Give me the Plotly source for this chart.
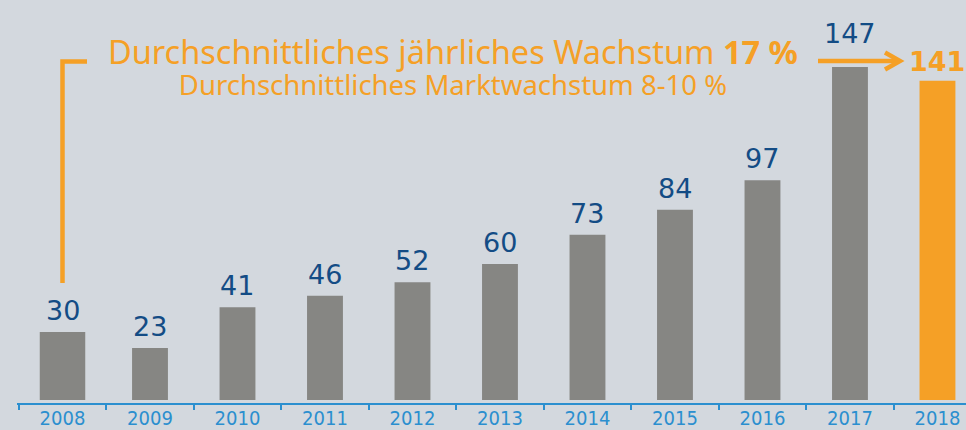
import plotly.graph_objects as go

years = ["2008", "2009", "2010", "2011", "2012", "2013", "2014", "2015", "2016", "2017", "2018"]
values = [30, 23, 41, 46, 52, 60, 73, 84, 97, 147, 141]
headline = "Durchschnittliches jährliches Wachstum <b>17 %</b>"
subline = "Durchschnittliches Marktwachstum 8-10 %"

BG = "#d3d8de"
GREY = "#868683"
ORANGE = "#f5a026"
DARKBLUE = "#134c85"
AXISBLUE = "#2b8fcf"

W, H = 966, 430
ML, MR, MT, MB = 17, 0, 0, 27
PW, PH = W - ML - MR, H - MT - MB


def px(x):
    return (x - ML) / PW


def py(y):
    return (PH + MT - y) / PH


colors = [GREY] * (len(values) - 1) + [ORANGE]
widths = [0.52] + [0.41] * (len(values) - 1)

fig = go.Figure()
fig.add_trace(go.Bar(
    x=years, y=values, marker=dict(color=colors, line=dict(width=0)),
    width=widths, hoverinfo="skip",
))

annotations = []
for i, v in enumerate(values):
    last = i == len(values) - 1
    shift = 4
    if i == len(values) - 2:
        shift = 16
    if last:
        shift = 2
    annotations.append(dict(
        x=i, y=v, xref="x", yref="y", text=("<b>%d</b>" % v) if last else str(v),
        showarrow=False, yanchor="bottom", yshift=shift,
        font=dict(family="DejaVu Sans", size=27,
                  color=ORANGE if last else DARKBLUE),
    ))

annotations.append(dict(
    x=px(453), y=py(66), xref="paper", yref="paper",
    text=("<span style='font-size:32.5px'>%s</span><br>"
          "<span style='font-size:27.5px'>%s</span>") % (headline, subline),
    showarrow=False, xanchor="center", yanchor="middle", align="center",
    font=dict(family="Noto Sans", size=24, color=ORANGE),
))

shapes = [
    dict(type="path", xref="paper", yref="paper",
         path="M %f %f L %f %f L %f %f" % (px(62.5), py(283), px(62.5), py(61.5), px(87), py(61.5)),
         line=dict(color=ORANGE, width=4.5)),
    dict(type="line", xref="paper", yref="paper",
         x0=px(818), y0=py(61), x1=px(898), y1=py(61),
         line=dict(color=ORANGE, width=4.5)),
    dict(type="path", xref="paper", yref="paper",
         path="M %f %f L %f %f L %f %f" % (px(885), py(52.5), px(900), py(61), px(885), py(69.5)),
         line=dict(color=ORANGE, width=4.5)),
]

fig.update_layout(
    width=W, height=H,
    margin=dict(l=ML, r=MR, t=MT, b=MB, pad=0, autoexpand=False),
    paper_bgcolor=BG, plot_bgcolor=BG,
    showlegend=False,
    annotations=annotations,
    shapes=shapes,
)
fig.update_xaxes(
    type="category", range=[-0.52, 10.326], automargin=False,
    showline=True, linecolor=AXISBLUE, linewidth=2,
    ticks="outside", tickson="boundaries", ticklen=5, tickcolor=AXISBLUE, tickwidth=1.5,
    ticklabelstandoff=-4,
    tickfont=dict(family="DejaVu Sans Condensed", size=20, color=AXISBLUE),
    showgrid=False, zeroline=False, fixedrange=True,
)
fig.update_yaxes(
    range=[-1.32, 176.6], visible=False, showgrid=False, zeroline=False, fixedrange=True,
    automargin=False,
)

fig.write_html(
    "out.html",
    config=dict(displayModeBar=False),
    post_script="document.body.style.margin='0';document.body.style.background='%s';" % BG,
)
